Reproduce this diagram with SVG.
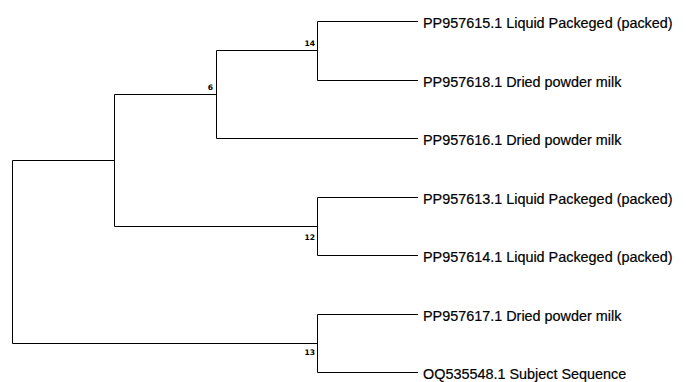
<svg xmlns="http://www.w3.org/2000/svg" width="686" height="382" viewBox="0 0 686 382">
  <style>
    .br { fill: none; stroke: #000; stroke-width: 1; }
    .leaf { font-family: "Liberation Sans", Arial, sans-serif; font-size: 14.4px; fill: #000; stroke: #000; stroke-width: 0.2; }
    .sup { font-family: "DejaVu Sans", Verdana, sans-serif; font-size: 7.6px; font-weight: bold; fill: #000; text-anchor: end; }
  </style>
  <rect width="686" height="382" fill="#fff"/>

  <!-- tree branches -->
  <g id="connectors">
    <!-- root -->
    <path class="br" d="M12.5,160.5 V343.5"/>
    <path class="br" d="M12.5,160.5 H114.5"/>
    <path class="br" d="M12.5,343.5 H317.5"/>
    <!-- inner node (6 + 12 clades) -->
    <path class="br" d="M114.5,94.5 V226.5"/>
    <path class="br" d="M114.5,94.5 H216.5"/>
    <path class="br" d="M114.5,226.5 H317.5"/>
    <!-- node 6 -->
    <path class="br" d="M216.5,50.5 V138.5"/>
    <path class="br" d="M216.5,50.5 H317.5"/>
    <path class="br" d="M216.5,138.5 H418"/>
    <!-- node 14 -->
    <path class="br" d="M317.5,21.5 V80.5"/>
    <path class="br" d="M317.5,21.5 H418"/>
    <path class="br" d="M317.5,80.5 H418"/>
    <!-- node 12 -->
    <path class="br" d="M317.5,197.5 V255.5"/>
    <path class="br" d="M317.5,197.5 H418"/>
    <path class="br" d="M317.5,255.5 H418"/>
    <!-- node 13 -->
    <path class="br" d="M317.5,314.5 V372.5"/>
    <path class="br" d="M317.5,314.5 H418"/>
    <path class="br" d="M317.5,372.5 H418"/>
  </g>

  <!-- bootstrap values -->
  <g id="support">
    <text class="sup" x="315" y="45.5">14</text>
    <text class="sup" x="213" y="89.5">6</text>
    <text class="sup" x="315" y="239.5">12</text>
    <text class="sup" x="315" y="355">13</text>
  </g>

  <!-- taxa -->
  <g id="taxon-PP957615"><text class="leaf" x="423" y="28">PP957615.1 Liquid Packeged (packed)</text></g>
  <g id="taxon-PP957618"><text class="leaf" x="423" y="87">PP957618.1 Dried powder milk</text></g>
  <g id="taxon-PP957616"><text class="leaf" x="423" y="145">PP957616.1 Dried powder milk</text></g>
  <g id="taxon-PP957613"><text class="leaf" x="423" y="204">PP957613.1 Liquid Packeged (packed)</text></g>
  <g id="taxon-PP957614"><text class="leaf" x="423" y="262">PP957614.1 Liquid Packeged (packed)</text></g>
  <g id="taxon-PP957617"><text class="leaf" x="423" y="321">PP957617.1 Dried powder milk</text></g>
  <g id="taxon-OQ535548"><text class="leaf" x="423" y="379">OQ535548.1 Subject Sequence</text></g>
</svg>
